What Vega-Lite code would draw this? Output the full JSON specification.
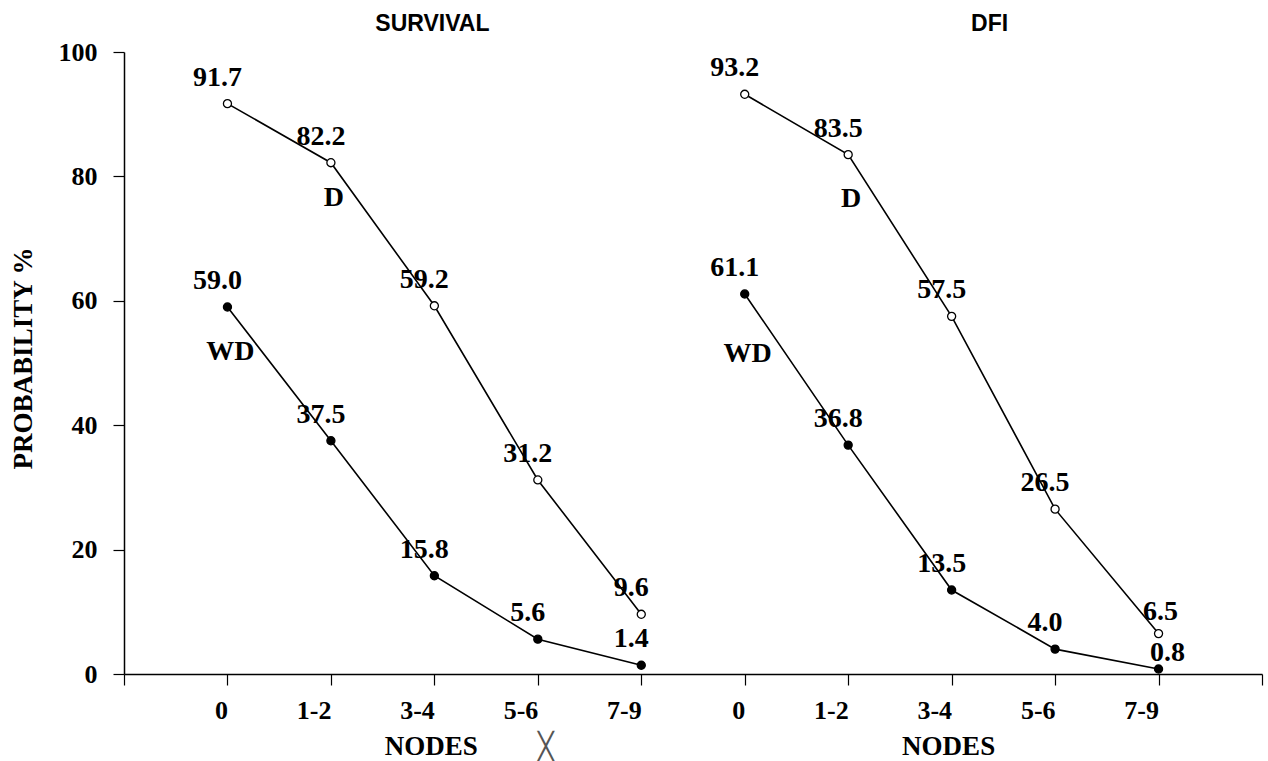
{
  "$schema": "https://vega.github.io/schema/vega-lite/v6.json",
  "width": 1138,
  "height": 622,
  "autosize": "none",
  "padding": {"left": 124, "top": 52, "right": 6, "bottom": 87},
  "background": "white",
  "config": {"view": {"stroke": null}, "font": "Liberation Serif"},
  "datasets": {
    "points": [
      {"panel": "SURVIVAL", "series": "D", "node": "S 0", "p": 91.7},
      {"panel": "SURVIVAL", "series": "D", "node": "S 1-2", "p": 82.2},
      {"panel": "SURVIVAL", "series": "D", "node": "S 3-4", "p": 59.2},
      {"panel": "SURVIVAL", "series": "D", "node": "S 5-6", "p": 31.2},
      {"panel": "SURVIVAL", "series": "D", "node": "S 7-9", "p": 9.6},
      {"panel": "SURVIVAL", "series": "WD", "node": "S 0", "p": 59.0},
      {"panel": "SURVIVAL", "series": "WD", "node": "S 1-2", "p": 37.5},
      {"panel": "SURVIVAL", "series": "WD", "node": "S 3-4", "p": 15.8},
      {"panel": "SURVIVAL", "series": "WD", "node": "S 5-6", "p": 5.6},
      {"panel": "SURVIVAL", "series": "WD", "node": "S 7-9", "p": 1.4},
      {"panel": "DFI", "series": "D", "node": "D 0", "p": 93.2},
      {"panel": "DFI", "series": "D", "node": "D 1-2", "p": 83.5},
      {"panel": "DFI", "series": "D", "node": "D 3-4", "p": 57.5},
      {"panel": "DFI", "series": "D", "node": "D 5-6", "p": 26.5},
      {"panel": "DFI", "series": "D", "node": "D 7-9", "p": 6.5},
      {"panel": "DFI", "series": "WD", "node": "D 0", "p": 61.1},
      {"panel": "DFI", "series": "WD", "node": "D 1-2", "p": 36.8},
      {"panel": "DFI", "series": "WD", "node": "D 3-4", "p": 13.5},
      {"panel": "DFI", "series": "WD", "node": "D 5-6", "p": 4.0},
      {"panel": "DFI", "series": "WD", "node": "D 7-9", "p": 0.8}
    ],
    "series_labels": [
      {"node": "S 1-2", "p": 75.3, "label": "D"},
      {"node": "S 0", "p": 50.5, "label": "WD"},
      {"node": "D 1-2", "p": 75.1, "label": "D"},
      {"node": "D 0", "p": 50.2, "label": "WD"}
    ],
    "nodes_titles": [
      {"node": "S 3-4", "label": "NODES"},
      {"node": "D 3-4", "label": "NODES"}
    ]
  },
  "layer": [
    {
      "mark": {"type": "rule", "color": "black", "strokeWidth": 1.5},
      "encoding": {"y": {"datum": 100, "type": "quantitative"}}
    },
    {
      "mark": {"type": "rule", "color": "#777", "strokeWidth": 1, "strokeDash": [3, 2]},
      "encoding": {
        "x": {"datum": "end", "type": "ordinal"},
        "y": {"datum": 0, "type": "quantitative"},
        "y2": {"datum": 40}
      }
    },
    {
      "data": {"name": "points"},
      "mark": {"type": "line", "color": "black", "strokeWidth": 1.6},
      "encoding": {
        "x": {
          "field": "node",
          "type": "ordinal",
          "scale": {
            "type": "point",
            "padding": 0,
            "domain": ["pad", "S 0", "S 1-2", "S 3-4", "S 5-6", "S 7-9", "D 0", "D 1-2", "D 3-4", "D 5-6", "D 7-9", "end"]
          },
          "axis": {
            "title": null,
            "labelExpr": "datum.value == 'pad' || datum.value == 'end' ? '' : substring(datum.value, 2)",
            "labelFont": "Liberation Serif",
            "labelFontWeight": "bold",
            "labelFontSize": 26,
            "labelColor": "black",
            "labelAngle": 0,
            "labelPadding": 25,
            "tickColor": "black",
            "tickSize": 11,
            "tickWidth": 1.2,
            "domainColor": "black",
            "domainWidth": 1.5,
            "grid": false
          }
        },
        "y": {
          "field": "p",
          "type": "quantitative",
          "scale": {"domain": [0, 100], "nice": false},
          "axis": {
            "title": "PROBABILITY %",
            "titleFont": "Liberation Serif",
            "titleFontWeight": "bold",
            "titleFontSize": 27,
            "titleColor": "black",
            "titleAngle": -90,
            "titleAlign": "center",
            "titleBaseline": "middle",
            "titleX": -101,
            "titleY": 306,
            "values": [0, 20, 40, 60, 80, 100],
            "labelFont": "Liberation Serif",
            "labelFontWeight": "bold",
            "labelFontSize": 26,
            "labelColor": "black",
            "labelPadding": 16,
            "tickColor": "black",
            "tickSize": 11,
            "tickWidth": 1.2,
            "domainColor": "black",
            "domainWidth": 1.5,
            "grid": false
          }
        },
        "detail": [{"field": "panel"}, {"field": "series"}]
      }
    },
    {
      "data": {"name": "points"},
      "mark": {"type": "point", "shape": "circle", "filled": true, "stroke": "black", "strokeWidth": 1.3, "size": 65, "opacity": 1},
      "encoding": {
        "x": {"field": "node", "type": "ordinal"},
        "y": {"field": "p", "type": "quantitative"},
        "fill": {
          "field": "series",
          "type": "nominal",
          "scale": {"domain": ["D", "WD"], "range": ["white", "black"]},
          "legend": null
        }
      }
    },
    {
      "data": {"name": "points"},
      "transform": [{"filter": "datum.node != 'D 7-9'"}],
      "mark": {"type": "text", "font": "Liberation Serif", "fontWeight": "bold", "fontSize": 28, "color": "black", "align": "center", "baseline": "alphabetic", "dx": -10, "dy": -18},
      "encoding": {
        "x": {"field": "node", "type": "ordinal"},
        "y": {"field": "p", "type": "quantitative"},
        "text": {"field": "p", "type": "quantitative", "format": ".1f"}
      }
    },
    {
      "data": {"name": "points"},
      "transform": [{"filter": "datum.node == 'D 7-9' && datum.series == 'D'"}],
      "mark": {"type": "text", "font": "Liberation Serif", "fontWeight": "bold", "fontSize": 28, "color": "black", "align": "center", "baseline": "alphabetic", "dx": 2, "dy": -14},
      "encoding": {
        "x": {"field": "node", "type": "ordinal"},
        "y": {"field": "p", "type": "quantitative"},
        "text": {"field": "p", "type": "quantitative", "format": ".1f"}
      }
    },
    {
      "data": {"name": "points"},
      "transform": [{"filter": "datum.node == 'D 7-9' && datum.series == 'WD'"}],
      "mark": {"type": "text", "font": "Liberation Serif", "fontWeight": "bold", "fontSize": 28, "color": "black", "align": "center", "baseline": "alphabetic", "dx": 9, "dy": -8},
      "encoding": {
        "x": {"field": "node", "type": "ordinal"},
        "y": {"field": "p", "type": "quantitative"},
        "text": {"field": "p", "type": "quantitative", "format": ".1f"}
      }
    },
    {
      "data": {"name": "series_labels"},
      "mark": {"type": "text", "font": "Liberation Serif", "fontWeight": "bold", "fontSize": 28, "color": "black", "align": "center", "baseline": "alphabetic", "dx": 3},
      "encoding": {
        "x": {"field": "node", "type": "ordinal"},
        "y": {"field": "p", "type": "quantitative"},
        "text": {"field": "label"}
      }
    },
    {
      "data": {"name": "nodes_titles"},
      "mark": {"type": "text", "font": "Liberation Serif", "fontWeight": "bold", "fontSize": 27, "color": "black", "align": "center", "baseline": "alphabetic", "dx": -3, "dy": 81},
      "encoding": {
        "x": {"field": "node", "type": "ordinal"},
        "y": {"datum": 0, "type": "quantitative"},
        "text": {"field": "label"}
      }
    },
    {
      "data": {"values": [{"node": "S 3-4", "label": "SURVIVAL"}]},
      "mark": {"type": "text", "font": "Liberation Sans", "fontWeight": "bold", "fontSize": 23, "color": "black", "align": "center", "baseline": "alphabetic", "dx": -2, "dy": -21},
      "encoding": {
        "x": {"field": "node", "type": "ordinal"},
        "y": {"datum": 100, "type": "quantitative"},
        "text": {"field": "label"}
      }
    },
    {
      "data": {"values": [{"node": "D 3-4", "label": "DFI"}]},
      "mark": {"type": "text", "font": "Liberation Sans", "fontWeight": "bold", "fontSize": 23, "color": "black", "align": "center", "baseline": "alphabetic", "dx": 38, "dy": -21},
      "encoding": {
        "x": {"field": "node", "type": "ordinal"},
        "y": {"datum": 100, "type": "quantitative"},
        "text": {"field": "label"}
      }
    },
    {
      "data": {"values": [{"node": "S 5-6", "label": "╳"}]},
      "mark": {"type": "text", "font": "DejaVu Sans", "fontSize": 26, "color": "#555", "align": "center", "baseline": "alphabetic", "dx": 8, "dy": 81},
      "encoding": {
        "x": {"field": "node", "type": "ordinal"},
        "y": {"datum": 0, "type": "quantitative"},
        "text": {"field": "label"}
      }
    }
  ]
}
